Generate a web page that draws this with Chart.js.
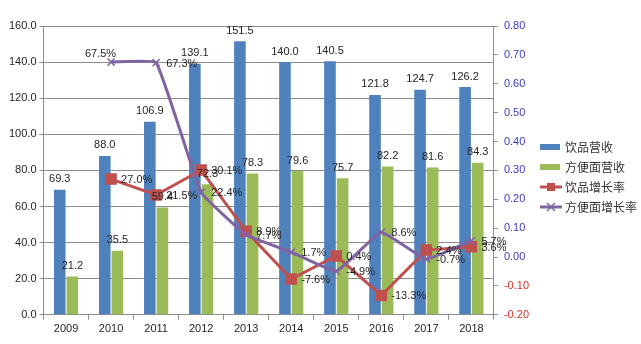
<!DOCTYPE html>
<html>
<head>
<meta charset="utf-8">
<script src="https://cdn.jsdelivr.net/npm/chart.js"></script>
<style>
  html, body { margin: 0; padding: 0; background: #fff; }
  #wrap { width: 641px; height: 344px; }
</style>
</head>
<body>
<div id="wrap"><canvas id="chart" width="641" height="344"></canvas></div>
<script>
// Revenue (bars, left axis) and year-on-year growth (lines, right axis)
const years = ["2009", "2010", "2011", "2012", "2013", "2014", "2015", "2016", "2017", "2018"]
const drinkRevenue = [69.3, 88.0, 106.9, 139.1, 151.5, 140.0, 140.5, 121.8, 124.7, 126.2]
const noodleRevenue = [21.2, 35.5, 59.4, 72.3, 78.3, 79.6, 75.7, 82.2, 81.6, 84.3]
const drinkGrowth = [null, 0.270, 0.215, 0.301, 0.089, -0.076, 0.004, -0.133, 0.024, 0.036]
const noodleGrowth = [null, 0.675, 0.673, 0.224, 0.077, 0.017, -0.049, 0.086, -0.007, 0.057]
const seriesNames = ["饮品营收", "方便面营收", "饮品增长率", "方便面增长率"]

const BLUE = "#4f81bd"
const GREEN = "#9bbb59"
const RED = "#c0504d"
const PURPLE = "#8064a2"
const GRID = "#8c8c8c"
const TEXT = "#262626"
const LATIN = "'Liberation Sans', Arial, sans-serif"
const CJK = "'Noto Sans CJK SC', sans-serif"

// Value labels on bars and line points
const valueLabels = {
    id: "valueLabels",
    afterDatasetsDraw(chart) {
        const ctx = chart.ctx
        ctx.save()
        ctx.font = "11px " + LATIN
        ctx.fillStyle = TEXT
        chart.data.datasets.forEach((ds, di) => {
            const meta = chart.getDatasetMeta(di)
            meta.data.forEach((el, i) => {
                const v = ds.data[i]
                if (v === null || v === undefined) return
                if (ds.type === "bar") {
                    ctx.textAlign = "center"
                    ctx.textBaseline = "bottom"
                    ctx.fillText(v.toFixed(1), el.x, el.y - 5)
                } else {
                    const txt = (v * 100).toFixed(1) + "%"
                    if (di === 3 && i === 1) {
                        // first noodle point sits above the curve
                        ctx.textAlign = "right"
                        ctx.textBaseline = "bottom"
                        ctx.fillText(txt, el.x + 5, el.y - 3)
                    } else {
                        ctx.textAlign = "left"
                        ctx.textBaseline = "middle"
                        ctx.fillText(txt, el.x + 10, el.y + 1)
                    }
                }
            })
        })
        ctx.restore()
    },
}

// Legend on the right: boxes for bars, line + marker for growth rates
const sideLegend = {
    id: "sideLegend",
    afterDraw(chart) {
        const ctx = chart.ctx
        const x0 = 540
        const y0 = 147
        const gap = 20
        ctx.save()
        ctx.font = "12px " + CJK
        ctx.textBaseline = "middle"
        ctx.textAlign = "left"
        chart.data.datasets.forEach((ds, i) => {
            const y = y0 + i * gap
            if (ds.type === "bar") {
                ctx.fillStyle = ds.backgroundColor
                ctx.fillRect(x0, y - 3, 20, 6)
            } else {
                ctx.strokeStyle = ds.borderColor
                ctx.lineWidth = 3
                ctx.beginPath()
                ctx.moveTo(x0, y)
                ctx.lineTo(x0 + 22, y)
                ctx.stroke()
                const mx = x0 + 11
                if (ds.pointStyle === "rect") {
                    ctx.fillStyle = ds.pointBackgroundColor
                    ctx.fillRect(mx - 4, y - 4, 8, 8)
                } else {
                    ctx.lineWidth = 1.5
                    ctx.beginPath()
                    ctx.moveTo(mx - 4, y - 4)
                    ctx.lineTo(mx + 4, y + 4)
                    ctx.moveTo(mx + 4, y - 4)
                    ctx.lineTo(mx - 4, y + 4)
                    ctx.stroke()
                }
            }
            ctx.fillStyle = "#333"
            ctx.fillText(ds.label, x0 + 25, y)
        })
        ctx.restore()
    },
}

new Chart(document.getElementById("chart"), {
    data: {
        labels: years,
        datasets: [
            {
                type: "bar",
                label: seriesNames[0],
                data: drinkRevenue,
                backgroundColor: BLUE,
                yAxisID: "y",
                order: 2,
                categoryPercentage: 0.56,
                barPercentage: 0.92,
            },
            {
                type: "bar",
                label: seriesNames[1],
                data: noodleRevenue,
                backgroundColor: GREEN,
                yAxisID: "y",
                order: 2,
                categoryPercentage: 0.56,
                barPercentage: 0.92,
            },
            {
                type: "line",
                label: seriesNames[2],
                data: drinkGrowth,
                borderColor: RED,
                borderWidth: 3,
                pointStyle: "rect",
                pointRadius: 6,
                pointBackgroundColor: RED,
                pointBorderColor: RED,
                tension: 0,
                yAxisID: "y1",
                order: 1,
            },
            {
                type: "line",
                label: seriesNames[3],
                data: noodleGrowth,
                borderColor: PURPLE,
                borderWidth: 3,
                pointStyle: "crossRot",
                pointRadius: 5,
                pointBorderWidth: 1.5,
                pointBorderColor: PURPLE,
                tension: 0.1,
                yAxisID: "y1",
                order: 0,
            },
        ],
    },
    options: {
        responsive: false,
        animation: false,
        layout: { padding: { left: 6, right: 106, top: 26, bottom: 5 } },
        plugins: {
            legend: { display: false },
            tooltip: { enabled: false },
        },
        scales: {
            x: {
                offset: true,
                grid: {
                    offset: true,
                    drawOnChartArea: false,
                    drawTicks: true,
                    tickLength: 5,
                    color: GRID,
                },
                border: { color: GRID },
                ticks: { color: TEXT, font: { family: LATIN, size: 11 }, padding: 3 },
            },
            y: {
                position: "left",
                min: 0,
                max: 160,
                grid: { color: GRID, tickLength: 4 },
                border: { color: GRID },
                ticks: {
                    stepSize: 20,
                    color: TEXT,
                    font: { family: LATIN, size: 11 },
                    padding: 3,
                    callback: (v) => v.toFixed(1),
                },
            },
            y1: {
                position: "right",
                min: -0.2,
                max: 0.8,
                grid: { drawOnChartArea: false, tickLength: 4, color: GRID },
                border: { color: GRID },
                ticks: {
                    stepSize: 0.1,
                    font: { family: LATIN, size: 11 },
                    padding: 6,
                    color: (c) => (c.tick.value < -0.001 ? "#d8332a" : "#3a3ac8"),
                    callback: (v) => v.toFixed(2),
                },
            },
        },
    },
    plugins: [valueLabels, sideLegend],
})
</script>
</body>
</html>
